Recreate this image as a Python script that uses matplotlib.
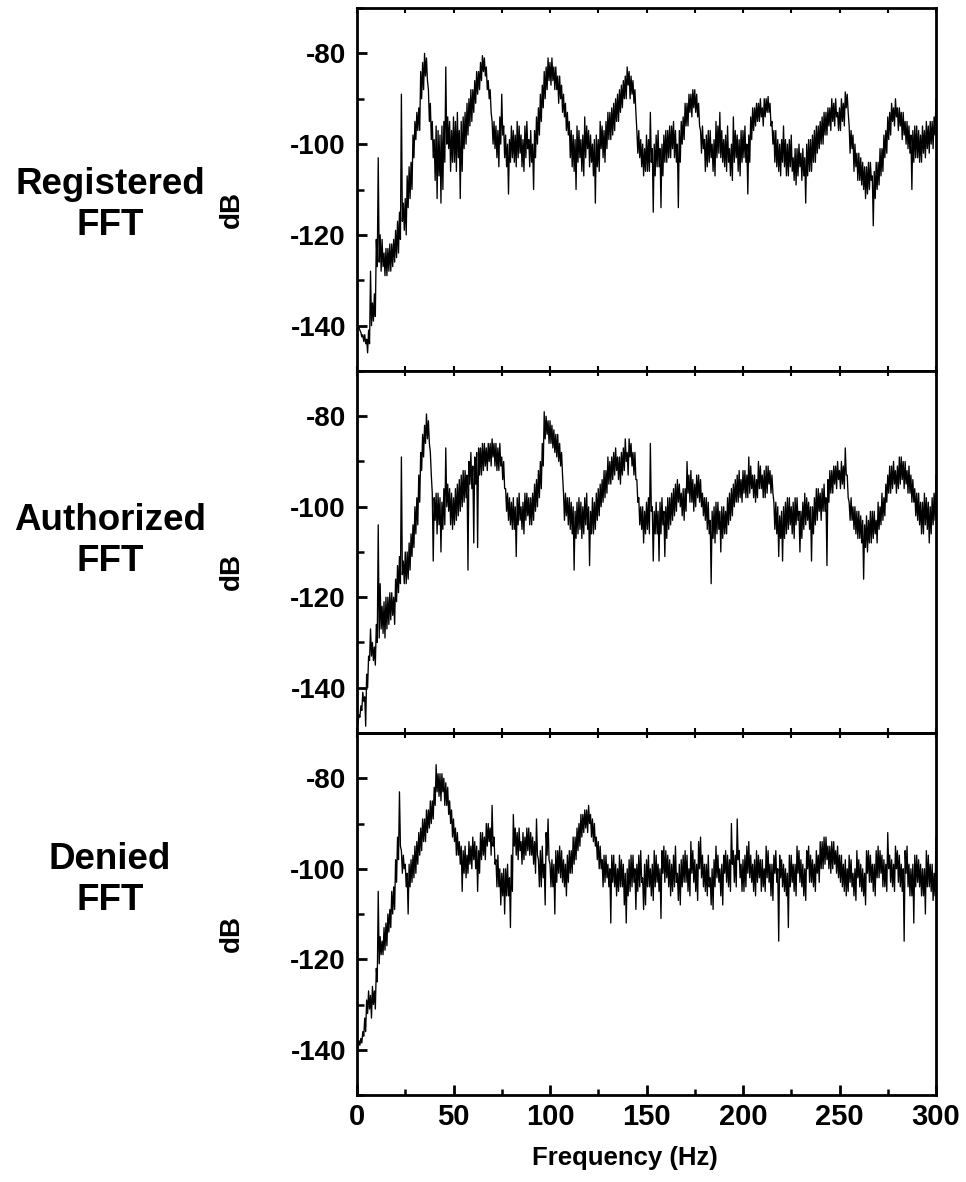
import matplotlib
matplotlib.use("Agg")
import matplotlib.pyplot as plt
import numpy as np

# ---------------- data ----------------
# For every 1 Hz bin two readings of the noisy trace are kept: a first reading
# and a companion reading on the other side of the dense band.
freq_hz = list(range(0, 301))

registered_db = [
    -140, -140.5, -141.5, -142, -144, -146, -141, -128, -139, -133,
    -127, -103, -120, -127, -124, -129, -123, -128, -122, -126,
    -119, -124, -115, -89, -113, -120, -107, -112, -104, -98,
    -95, -97, -92, -84, -88, -80, -86, -95, -91, -103,
    -99, -112, -97, -113, -96, -104, -83, -101, -95, -104,
    -94, -106, -93, -112, -95, -101, -93, -98, -90, -95,
    -88, -86, -89, -84, -82, -80.5, -85, -88, -86, -93,
    -95, -101, -96, -105, -100, -89, -103, -98, -111, -99,
    -103, -97, -105, -95, -102, -98, -106, -96, -101, -99,
    -104, -110, -97, -100, -92, -95, -87, -84, -88, -81,
    -82, -86, -83, -88, -85, -90, -87, -94, -91, -98,
    -95, -105, -98, -110, -96, -103, -99, -107, -94, -101,
    -97, -104, -100, -113, -98, -106, -101, -96, -104, -95,
    -99, -93, -98, -91, -95, -89, -93, -87, -90, -85,
    -87, -84, -89, -86, -93, -97, -103, -99, -107, -101,
    -98, -106, -93, -115, -100, -105, -97, -114, -100, -104,
    -97, -103, -96, -101, -95, -104, -114, -97, -100, -94,
    -96, -91, -93, -89, -92, -88, -94, -91, -97, -101,
    -99, -105, -97, -103, -100, -107, -95, -102, -93, -104,
    -99, -106, -96, -101, -108, -94, -103, -98, -107, -97,
    -103, -96, -111, -98, -94, -97, -92, -95, -91, -94,
    -92, -90, -93, -89.5, -91, -95, -104, -97, -106, -100,
    -104, -96, -107, -100, -105, -98, -103, -109, -101, -105,
    -102, -107, -113, -100, -106, -99, -104, -97, -102, -96,
    -100, -94, -98, -93, -96, -92, -95, -91, -94, -93,
    -92, -95, -91, -88.5, -93, -96, -101, -98, -105, -102,
    -108, -103, -110, -105, -111, -104, -108, -118, -106, -110,
    -104, -107, -101, -103, -97, -99, -93, -95, -92, -94,
    -92, -96, -93, -98, -95, -101, -96, -110, -97, -103,
    -96, -104, -98, -102, -97, -101, -96, -100, -95, -98,
    -90,
]
registered_companion_db = [
    -140.5, -141, -142.5, -143.5, -142, -143, -144, -140, -135, -138,
    -121, -126, -128, -121, -129, -123, -128, -122, -127, -121,
    -125, -117, -121, -117, -119, -112, -114, -105, -110, -103,
    -99, -93, -97, -90, -82, -85, -81, -88, -99, -95,
    -108, -96, -107, -98, -110, -95, -100, -94, -106, -97,
    -104, -95, -103, -97, -106, -94, -100, -91, -96, -88,
    -93, -91, -84, -88, -86, -84, -81, -83, -90, -88,
    -100, -95, -103, -97, -94, -98, -96, -105, -100, -104,
    -96, -104, -98, -103, -96, -105, -99, -103, -95, -105,
    -97, -100, -103, -94, -98, -89, -92, -90, -83, -86,
    -87, -81, -88, -83, -91, -85, -93, -89, -97, -93,
    -103, -97, -106, -99, -104, -97, -106, -98, -103, -96,
    -105, -98, -107, -99, -105, -99, -95, -103, -97, -101,
    -93, -99, -92, -97, -90, -95, -88, -92, -86, -90,
    -83, -90, -85, -91, -88, -102, -97, -105, -100, -106,
    -106, -99, -104, -101, -107, -98, -105, -101, -107, -98,
    -104, -97, -103, -96, -103, -97, -100, -104, -95, -99,
    -91, -96, -89, -94, -88, -93, -89, -96, -102, -96,
    -106, -98, -104, -97, -106, -99, -103, -96, -103, -97,
    -105, -98, -104, -107, -100, -104, -97, -106, -99, -104,
    -97, -104, -100, -104, -99, -92, -96, -91, -95, -90,
    -96, -94, -90, -93, -96, -100, -97, -105, -99, -107,
    -99, -105, -99, -107, -99, -106, -108, -101, -107, -100,
    -108, -101, -103, -107, -99, -106, -98, -104, -96, -101,
    -95, -100, -93, -98, -92, -97, -90, -96, -90, -97,
    -97, -90, -96, -92, -89, -102, -97, -106, -100, -108,
    -102, -109, -104, -112, -105, -110, -104, -107, -112, -104,
    -109, -101, -106, -98, -102, -94, -98, -91, -96, -90,
    -97, -92, -99, -93, -100, -95, -102, -98, -104, -96,
    -103, -97, -104, -96, -103, -95, -102, -95, -101, -94,
    -99,
]

authorized_db = [
    -148, -146.5, -145, -143, -148.5, -140, -134, -127, -134, -131,
    -130, -104, -117, -122, -129, -120, -126, -119, -124, -120,
    -121, -113, -117, -89, -112, -117, -110, -114, -106, -109,
    -100, -104, -93, -88, -84, -82, -79.5, -86, -93, -112,
    -98, -106, -97, -110, -99, -104, -87, -101, -96, -105,
    -98, -103, -95, -101, -93, -99, -92, -114, -90, -96,
    -108, -89, -109, -87, -93, -86, -91, -87, -90, -86,
    -89, -86, -92, -87, -91, -89, -96, -101, -97, -104,
    -99, -105, -111, -98, -103, -100, -106, -97, -102, -98,
    -104, -97, -101, -94, -98, -90, -86, -79, -84, -81,
    -86, -82, -88, -84, -90, -86, -93, -97, -102, -98,
    -105, -99, -114, -101, -106, -98, -107, -100, -104, -97,
    -113, -101, -106, -99, -103, -96, -100, -94, -98, -92,
    -95, -90, -94, -88, -92, -89, -95, -88, -92, -90,
    -88, -85, -91, -88, -94, -99, -104, -100, -108, -101,
    -105, -98, -86, -112, -101, -106, -112, -99, -104, -111,
    -100, -105, -98, -103, -96, -101, -94, -100, -97, -103,
    -96, -90, -99, -92, -101, -95, -98, -93, -100, -97,
    -103, -98, -106, -117, -101, -108, -99, -105, -110, -100,
    -106, -101, -104, -97, -102, -95, -99, -93, -98, -94,
    -97, -92, -98, -89, -96, -93, -99, -94, -90, -96,
    -93, -98, -91, -95, -92, -97, -105, -99, -111, -102,
    -112, -100, -106, -98, -104, -100, -107, -98, -103, -110,
    -101, -105, -97, -103, -99, -112, -100, -104, -96, -101,
    -97, -101, -95, -113, -94, -97, -92, -95, -91, -94,
    -92, -95, -91, -87, -93, -99, -103, -100, -106, -101,
    -107, -102, -116, -104, -110, -103, -108, -101, -106, -103,
    -105, -100, -103, -98, -95, -93, -97, -91, -95, -92,
    -96, -89, -94, -90, -95, -92, -97, -93, -99, -96,
    -103, -97, -106, -99, -104, -98, -108, -100, -104, -97,
    -93,
]
authorized_companion_db = [
    -147.5, -146, -144, -141, -142, -137, -133, -133, -130, -135,
    -126, -129, -127, -128, -121, -127, -120, -125, -119, -126,
    -116, -119, -111, -115, -117, -110, -116, -108, -111, -104,
    -106, -98, -99, -92, -89, -86, -85, -81, -88, -97,
    -103, -97, -104, -98, -105, -96, -100, -95, -104, -97,
    -104, -96, -102, -94, -100, -92, -98, -93, -95, -88,
    -91, -95, -88, -93, -87, -92, -86, -92, -86, -91,
    -85, -91, -86, -92, -86, -94, -90, -96, -103, -98,
    -105, -98, -100, -104, -97, -105, -99, -103, -97, -104,
    -98, -103, -95, -100, -92, -96, -91, -85, -80, -86,
    -81, -87, -83, -89, -84, -91, -88, -103, -97, -104,
    -98, -106, -100, -107, -99, -105, -99, -106, -98, -105,
    -100, -106, -98, -105, -97, -102, -95, -99, -92, -97,
    -89, -95, -89, -93, -87, -94, -89, -93, -87, -85,
    -93, -89, -86, -93, -88, -94, -98, -105, -100, -106,
    -99, -106, -101, -100, -106, -99, -101, -106, -98, -101,
    -107, -98, -104, -97, -102, -95, -99, -95, -102, -96,
    -101, -97, -93, -99, -94, -100, -93, -99, -94, -102,
    -98, -105, -99, -103, -107, -100, -106, -99, -101, -107,
    -100, -106, -98, -103, -96, -100, -94, -99, -92, -99,
    -92, -98, -93, -97, -91, -98, -93, -98, -96, -91,
    -98, -92, -97, -91, -97, -93, -99, -106, -100, -107,
    -101, -107, -99, -105, -98, -106, -99, -104, -98, -101,
    -107, -99, -104, -98, -105, -100, -106, -98, -103, -96,
    -103, -96, -101, -98, -99, -92, -97, -91, -96, -90,
    -96, -90, -96, -93, -98, -103, -98, -105, -100, -107,
    -101, -108, -103, -109, -102, -108, -101, -107, -101, -108,
    -99, -104, -97, -102, -99, -97, -91, -96, -90, -97,
    -91, -95, -89, -96, -90, -97, -91, -99, -94, -102,
    -97, -104, -99, -106, -97, -105, -99, -106, -98, -103,
    -101,
]

denied_db = [
    -140, -139, -138.5, -137, -136, -132, -127, -133, -126, -131,
    -122, -105, -119, -116, -118, -112, -114, -109, -110, -104,
    -98, -93, -83, -96, -100, -104, -110, -99, -103, -97,
    -101, -94, -97, -91, -94, -89, -92, -87, -90, -85,
    -82, -77, -84, -79, -83, -80, -86, -82, -90, -87,
    -94, -91, -97, -94, -105, -96, -102, -97, -99, -95,
    -98, -94, -105, -96, -92, -97, -93, -90, -94, -91,
    -86, -99, -104, -97, -108, -101, -110, -100, -106, -113,
    -105, -88, -97, -92, -96, -94, -98, -93, -96, -91,
    -97, -93, -101, -89, -98, -104, -95, -108, -97, -89,
    -99, -104, -110, -96, -101, -95, -103, -98, -106, -97,
    -101, -96, -99, -93, -96, -90, -93, -88, -91, -87,
    -90, -93, -89, -95, -98, -94, -100, -104, -97, -102,
    -99, -112, -103, -97, -106, -100, -104, -98, -108, -112,
    -100, -105, -97, -103, -109, -99, -104, -96, -102, -108,
    -98, -104, -100, -107, -96, -103, -99, -111, -101, -95,
    -102, -97, -106, -99, -104, -95, -101, -108, -98, -103,
    -96, -105, -100, -94, -103, -98, -107, -100, -93, -104,
    -99, -106, -97, -102, -109, -98, -95, -103, -100, -108,
    -101, -96, -104, -98, -90, -103, -97, -89, -102, -99,
    -105, -97, -101, -94, -103, -99, -106, -96, -102, -98,
    -104, -100, -95, -103, -99, -107, -101, -96, -116, -102,
    -98, -105, -100, -113, -97, -103, -99, -106, -101, -96,
    -104, -99, -107, -100, -95, -103, -98, -105, -101, -97,
    -94, -100, -93, -98, -95, -101, -94, -99, -96, -102,
    -97, -104, -99, -106, -100, -97, -104, -101, -107, -102,
    -98, -105, -100, -108, -101, -96, -103, -99, -106, -102,
    -95, -101, -97, -104, -99, -92, -103, -98, -105, -100,
    -96, -104, -99, -116, -101, -95, -106, -100, -112, -97,
    -103, -98, -106, -100, -110, -96, -104, -99, -107, -101,
    -93,
]
denied_companion_db = [
    -139.5, -138, -137.5, -136, -133, -129, -131, -128, -130, -127,
    -125, -121, -115, -119, -113, -117, -110, -113, -105, -109,
    -103, -98, -95, -101, -97, -99, -101, -104, -98, -102,
    -95, -99, -92, -96, -89, -94, -87, -91, -85, -89,
    -86, -83, -79, -85, -79, -86, -81, -88, -85, -93,
    -89, -97, -92, -99, -95, -101, -95, -101, -94, -100,
    -93, -100, -95, -101, -98, -92, -98, -95, -90, -97,
    -95, -93, -98, -104, -100, -106, -100, -106, -99, -102,
    -97, -95, -91, -98, -91, -99, -92, -97, -91, -97,
    -92, -99, -94, -97, -104, -96, -102, -99, -92, -98,
    -104, -98, -99, -103, -96, -102, -96, -104, -99, -103,
    -96, -101, -93, -98, -91, -95, -88, -92, -87, -92,
    -86, -88, -94, -90, -93, -100, -95, -98, -103, -97,
    -104, -100, -97, -104, -99, -105, -97, -104, -99, -101,
    -106, -98, -104, -97, -100, -105, -97, -103, -109, -99,
    -104, -97, -106, -99, -104, -97, -105, -100, -96, -103,
    -96, -104, -98, -105, -97, -103, -107, -99, -104, -97,
    -103, -97, -106, -101, -96, -105, -99, -94, -102, -97,
    -105, -99, -104, -108, -100, -104, -102, -97, -106, -99,
    -97, -103, -97, -105, -99, -96, -104, -98, -96, -105,
    -98, -104, -95, -102, -97, -105, -98, -103, -97, -105,
    -98, -105, -102, -96, -106, -99, -97, -103, -100, -97,
    -104, -99, -106, -101, -104, -97, -105, -99, -95, -103,
    -98, -106, -100, -96, -103, -97, -104, -99, -96, -103,
    -100, -94, -99, -93, -100, -95, -100, -94, -101, -95,
    -103, -97, -105, -98, -105, -103, -98, -106, -100, -96,
    -104, -99, -106, -101, -96, -103, -97, -105, -99, -96,
    -102, -96, -104, -98, -105, -100, -97, -104, -99, -95,
    -103, -97, -105, -100, -96, -104, -99, -106, -99, -104,
    -97, -104, -99, -106, -100, -104, -97, -105, -99, -106,
    -101,
]

panel_names = ["Registered\nFFT", "Authorized\nFFT", "Denied\nFFT"]
series = [(registered_db, registered_companion_db),
          (authorized_db, authorized_companion_db),
          (denied_db, denied_companion_db)]
y_limits = [(-148.2, -70), (-150, -70), (-150, -70)]
y_major = [-140, -120, -100, -80]
y_minor = [-150, -130, -110, -90, -70]
x_major = [0, 50, 100, 150, 200, 250, 300]
x_minor = [25, 75, 125, 175, 225, 275]
x_label = "Frequency (Hz)"
y_label = "dB"


def trace(first, companion):
    """Both readings of each bin: the upper one at the bin, the lower half a bin later."""
    f = np.asarray(freq_hz, dtype=float)
    a = np.asarray(first, dtype=float)
    b = np.asarray(companion, dtype=float)
    xs = np.empty(2 * len(f))
    ys = np.empty(2 * len(f))
    xs[0::2] = f
    xs[1::2] = f + 0.5
    ys[0::2] = np.maximum(a, b)
    ys[1::2] = np.minimum(a, b)
    return xs, ys


# ---------------- figure ----------------
W, H = 966, 1182
fig = plt.figure(figsize=(W / 100, H / 100), dpi=100)
plt.rcParams['font.family'] = ['Liberation Sans', 'DejaVu Sans']
plt.rcParams['font.weight'] = 'bold'

left_px, right_px = 357, 936
panel_px = [(8, 371), (371, 733), (733, 1095)]
label_centers = [205, 541, 880]
db_centers = [209, 572, 934]

for i, (top, bot) in enumerate(panel_px):
    ax = fig.add_axes([left_px / W, 1 - bot / H, (right_px - left_px) / W, (bot - top) / H])
    xs, ys = trace(*series[i])
    ax.plot(xs, ys, color='black', linewidth=0.95)
    ax.set_xlim(0, 300)
    ax.set_ylim(*y_limits[i])
    for sp in ax.spines.values():
        sp.set_linewidth(2.0)
    ax.set_yticks(y_major)
    ax.set_yticks(y_minor, minor=True)
    ax.set_yticklabels([str(v) for v in y_major], fontsize=20, fontweight='bold')
    ax.tick_params(axis='y', which='major', direction='in', length=7, width=2, pad=8)
    ax.tick_params(axis='y', which='minor', direction='in', length=5, width=1.8)
    ax.set_xticks(x_major)
    ax.set_xticks(x_minor, minor=True)
    if i < 2:
        ax.tick_params(axis='x', which='both', direction='in', length=3.5, width=1.5,
                       top=True, bottom=True, labelbottom=False)
    else:
        ax.tick_params(axis='x', which='major', direction='in', length=7, width=2,
                       top=False, bottom=True, pad=6)
        ax.tick_params(axis='x', which='minor', direction='in', length=4, width=1.8,
                       top=False, bottom=True)
        sec = ax.secondary_xaxis('top')
        sec.set_xticks(x_major + x_minor)
        sec.tick_params(direction='in', length=3.5, width=1.5, labeltop=False)
        sec.spines['top'].set_linewidth(2.0)
        ax.set_xticklabels([str(v) for v in x_major], fontsize=21, fontweight='bold')
    fig.text(110 / W, 1 - label_centers[i] / H, panel_names[i], ha='center', va='center',
             fontsize=26.5, fontweight='bold', linespacing=1.22)
    fig.text(232 / W, 1 - db_centers[i] / H, y_label, ha='center', va='center',
             rotation=90, fontsize=20, fontweight='bold')

fig.text(625 / W, 1 - 1158 / H, x_label, ha='center', va='center',
         fontsize=18.5, fontweight='bold')

fig.savefig("out.png", dpi=100)
